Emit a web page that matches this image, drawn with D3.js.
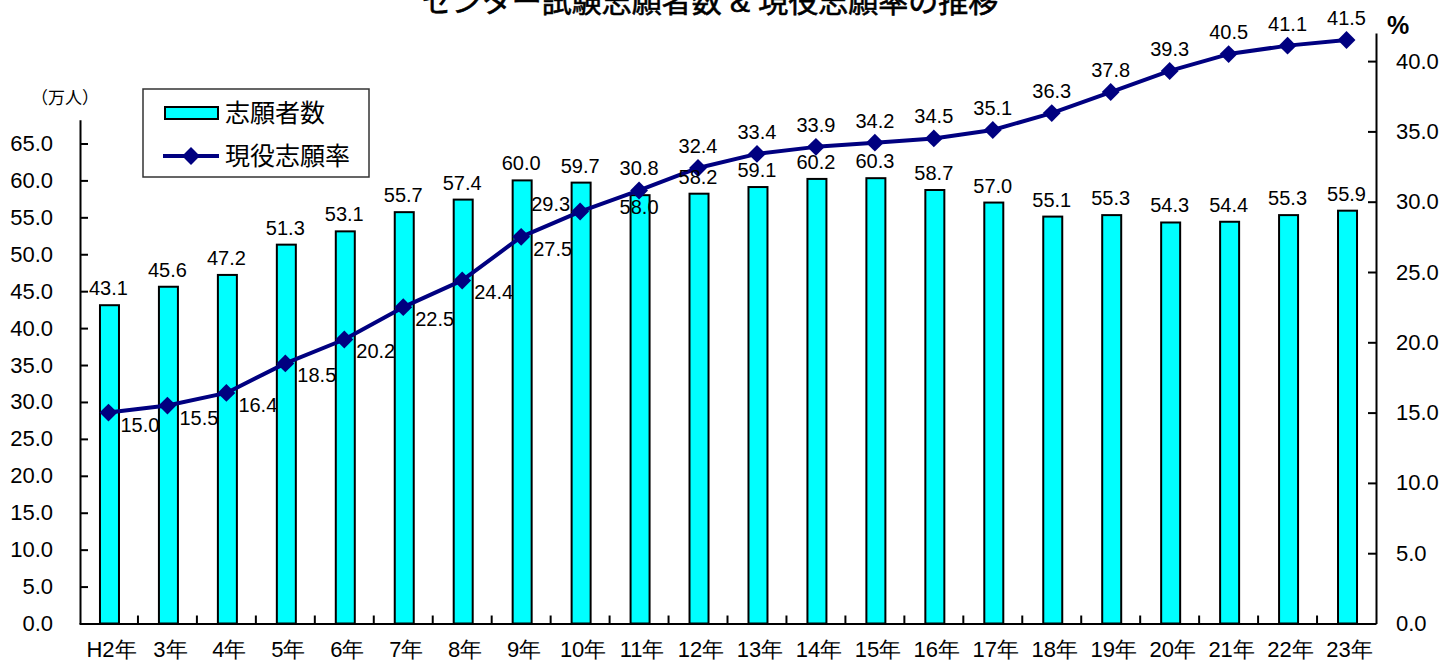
<!DOCTYPE html>
<html><head><meta charset="utf-8">
<script src="https://cdn.jsdelivr.net/npm/d3@7"></script>
<style>
html,body{margin:0;padding:0;background:#fff;}
svg{display:block;font-family:"Liberation Sans","Noto Sans CJK JP",sans-serif;}
</style></head>
<body>
<svg id="c" width="1442" height="662"></svg>
<script>
const categories = ["H2年","3年","4年","5年","6年","7年","8年","9年","10年","11年","12年","13年","14年","15年","16年","17年","18年","19年","20年","21年","22年","23年"];
const applicants = [43.1,45.6,47.2,51.3,53.1,55.7,57.4,60.0,59.7,58.0,58.2,59.1,60.2,60.3,58.7,57.0,55.1,55.3,54.3,54.4,55.3,55.9];
const currentRate = [15.0,15.5,16.4,18.5,20.2,22.5,24.4,27.5,29.3,30.8,32.4,33.4,33.9,34.2,34.5,35.1,36.3,37.8,39.3,40.5,41.1,41.5];
const leftTicks = [0,5,10,15,20,25,30,35,40,45,50,55,60,65];
const rightTicks = [0,5,10,15,20,25,30,35,40];
const title = "センター試験志願者数 & 現役志願率の推移";
const seriesNames = ["志願者数","現役志願率"];

const svg = d3.select("#c");
const x0 = 79, x1 = 1376, yBase = 623.5;
const x = d3.scaleBand().domain(categories).range([x0, x1]).paddingInner(0).paddingOuter(0);
const yL = d3.scaleLinear().domain([0, 68.2]).range([yBase, yBase - 68.2*7.385]);
const yR = d3.scaleLinear().domain([0, 42]).range([yBase, yBase - 42*14.06]);
const cx = c => x(c) + x.bandwidth()/2;

// title
svg.append("text").attr("x", 710).attr("y", 12).attr("text-anchor","middle")
  .attr("font-size", 30).attr("fill","#000").attr("stroke","#000").attr("stroke-width",0.6).text(title);

// bars
const barW = 19;
svg.append("g").selectAll("rect").data(applicants).join("rect")
  .attr("x", (d,i) => cx(categories[i]) - barW/2 + 1)
  .attr("y", d => yL(d))
  .attr("width", barW).attr("height", d => yBase - yL(d))
  .attr("fill", "#00FFFF").attr("stroke", "#000").attr("stroke-width", 2);

// left axis
const axL = d3.axisLeft(yL).tickValues(leftTicks).tickFormat(d3.format(".1f"))
  .tickSizeInner(-8).tickSizeOuter(0).tickPadding(27);
const gL = svg.append("g").attr("transform", `translate(${x0+1},0)`).call(axL);
gL.selectAll("text").attr("font-size", 22).attr("fill","#000");
gL.selectAll("line,path").attr("stroke","#000").attr("stroke-width",2);

// right axis
const axR = d3.axisRight(yR).tickValues(rightTicks).tickFormat(d3.format(".1f"))
  .tickSizeInner(-8).tickSizeOuter(0).tickPadding(20);
const gR = svg.append("g").attr("transform", `translate(${x1},0)`).call(axR);
gR.selectAll("text").attr("font-size", 22).attr("fill","#000");
gR.selectAll("line,path").attr("stroke","#000").attr("stroke-width",2);

// bottom axis
const axB = d3.axisBottom(x).tickSize(0).tickPadding(18);
const gB = svg.append("g").attr("transform", `translate(0,${yBase})`).call(axB);
gB.selectAll("text").attr("font-size", 22).attr("fill","#000").attr("dx", 3);
gB.select("path").attr("stroke","#000").attr("stroke-width",2);
svg.append("g").selectAll("line").data(categories.slice(0,-1)).join("line")
  .attr("x1", c => x(c) + x.bandwidth()).attr("x2", c => x(c) + x.bandwidth())
  .attr("y1", yBase).attr("y2", yBase - 8).attr("stroke","#000").attr("stroke-width",2);

// line
const line = d3.line().x((d,i) => cx(categories[i])).y(d => yR(d));
svg.append("path").datum(currentRate).attr("d", line)
  .attr("fill","none").attr("stroke","#000080").attr("stroke-width",4).attr("stroke-linejoin","round");
svg.append("g").selectAll("path").data(currentRate).join("path")
  .attr("transform", (d,i) => `translate(${cx(categories[i])},${yR(d)}) rotate(45)`)
  .attr("d", d3.symbol().type(d3.symbolSquare).size(160))
  .attr("fill","#000080");

// bar labels
svg.append("g").selectAll("text").data(applicants).join("text")
  .attr("x", (d,i) => cx(categories[i]))
  .attr("y", (d,i) => i === 9 ? yL(d) + 19 : yL(d) - 10)
  .attr("text-anchor","middle").attr("font-size", 20).attr("fill","#000")
  .text(d => d3.format(".1f")(d));

// line labels
svg.append("g").selectAll("text").data(currentRate).join("text")
  .attr("x", (d,i) => i <= 7 ? cx(categories[i]) + 12 : i === 8 ? cx(categories[i]) - 10 : cx(categories[i]))
  .attr("y", (d,i) => i <= 7 ? yR(d) + 19 : i === 8 ? yR(d) - 1 : yR(d) - 15)
  .attr("text-anchor", (d,i) => i <= 7 ? "start" : i === 8 ? "end" : "middle")
  .attr("font-size", 20).attr("fill","#000")
  .text(d => d3.format(".1f")(d));

// unit labels
svg.append("text").attr("x", 65).attr("y", 104).attr("text-anchor","middle")
  .attr("font-size", 17).attr("fill","#000").text("（万人）");
svg.append("text").attr("x", 1398).attr("y", 34).attr("text-anchor","middle")
  .attr("font-size", 25).attr("font-weight","bold").attr("fill","#000").text("%");

// legend
const lg = svg.append("g");
lg.append("rect").attr("x",143).attr("y",89).attr("width",226).attr("height",88)
  .attr("fill","#fff").attr("stroke","#333").attr("stroke-width",1.5);
lg.append("rect").attr("x",165).attr("y",107).attr("width",53).attr("height",12)
  .attr("fill","#00FFFF").attr("stroke","#000").attr("stroke-width",2);
lg.append("text").attr("x",225).attr("y",122).attr("font-size",25).attr("fill","#000").text(seriesNames[0]);
lg.append("line").attr("x1",163).attr("x2",219).attr("y1",156).attr("y2",156)
  .attr("stroke","#000080").attr("stroke-width",4);
lg.append("path").attr("transform","translate(191,156) rotate(45)")
  .attr("d", d3.symbol().type(d3.symbolSquare).size(160)).attr("fill","#000080");
lg.append("text").attr("x",225).attr("y",165).attr("font-size",25).attr("fill","#000").text(seriesNames[1]);
</script>
</body></html>
